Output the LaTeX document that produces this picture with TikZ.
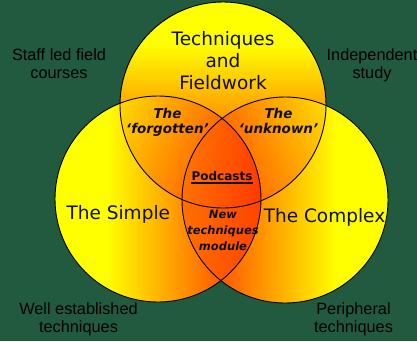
\documentclass[tikz,border=0pt]{standalone}
\usepackage{fontspec}
\setmainfont{DejaVu Sans}
\newfontfamily\labfont{Liberation Sans}
\definecolor{bg}{RGB}{33,90,62}
\definecolor{vy}{rgb}{1,1,0}
\definecolor{vr}{rgb}{1,0.13,0}
\definecolor{vt}{rgb}{1,0.1,0}
\definecolor{ink}{RGB}{15,15,15}
\pgfdeclarehorizontalshading{lsh}{100bp}{color(0bp)=(vy); color(37.5bp)=(vy); color(75bp)=(vr); color(100bp)=(vr)}
\pgfdeclarehorizontalshading{rsh}{100bp}{color(0bp)=(vr); color(25bp)=(vr); color(62.5bp)=(vy); color(100bp)=(vy)}
\pgfdeclareverticalshading{tsh}{100bp}{color(0bp)=(vt); color(25bp)=(vt); color(65bp)=(vy); color(100bp)=(vy)}
\begin{document}
\begin{tikzpicture}[x=1pt,y=1pt,
  big/.style={inner sep=0pt, anchor=base, align=center, text=ink, font=\fontsize{18.5}{21.8}\selectfont},
  outer/.style={inner sep=0pt, anchor=base, align=center, text=black, font=\labfont\fontsize{16.3}{17.5}\selectfont},
  zone/.style={inner sep=0pt, anchor=base, align=center, text=ink, font=\bfseries\itshape\fontsize{13.5}{15}\selectfont},
  core/.style={inner sep=0pt, anchor=base, align=center, text=ink, font=\bfseries\itshape\fontsize{11.5}{16}\selectfont},
  rim/.style={line width=0.9pt, draw=black}]
\useasboundingbox (0,0) rectangle (417,-341);
\fill[bg] (0,0) rectangle (417,-341);
\coordinate (ct) at (223,-105);
\coordinate (cl) at (158,-199);
\coordinate (cr) at (285,-200);
% base layers
\shade[shading=lsh] (cl) circle[radius=103];
\shade[shading=rsh] (cr) circle[radius=103];
\shade[shading=tsh] (ct) circle[radius=103];
% translucent overlays
\shade[shading=rsh, fill opacity=0.7] (cr) circle[radius=103];
\shade[shading=lsh, fill opacity=0.7] (cl) circle[radius=103];
% outlines
\draw[rim] (ct) circle[radius=103];
\draw[rim] (cl) circle[radius=103];
\draw[rim] (cr) circle[radius=103];
% texts (base anchor = baseline of the last line)
\node[big] (tf) at (223,-89.3) {Techniques\\and\\Fieldwork};
\node[big] (simple) at (118.3,-219) {The Simple};
\node[big] (complex) at (324.5,-222) {The Complex};
\node[outer] (staff) at (59,-78) {Staff led field\\courses};
\node[outer] (indep) at (372,-78) {Independent\\study};
\node[outer] (well) at (78.5,-332) {Well established\\techniques};
\node[outer] (periph) at (353.5,-332) {Peripheral\\techniques};
\node[zone] (forg) at (167.5,-133) {The\\‘forgotten’};
\node[zone] (unkn) at (278.5,-133) {The\\‘unknown’};
\node[inner sep=0pt, anchor=base, text=ink, font=\bfseries\fontsize{12}{14}\selectfont] (pod) at (222,-180) {Podcasts};
\draw[line width=1.6pt, ink] ([yshift=-2.8pt]pod.base west) -- ([yshift=-2.8pt]pod.base east);
\node[core] (newt) at (223,-250) {New\\techniques\\module};
\end{tikzpicture}
\end{document}
